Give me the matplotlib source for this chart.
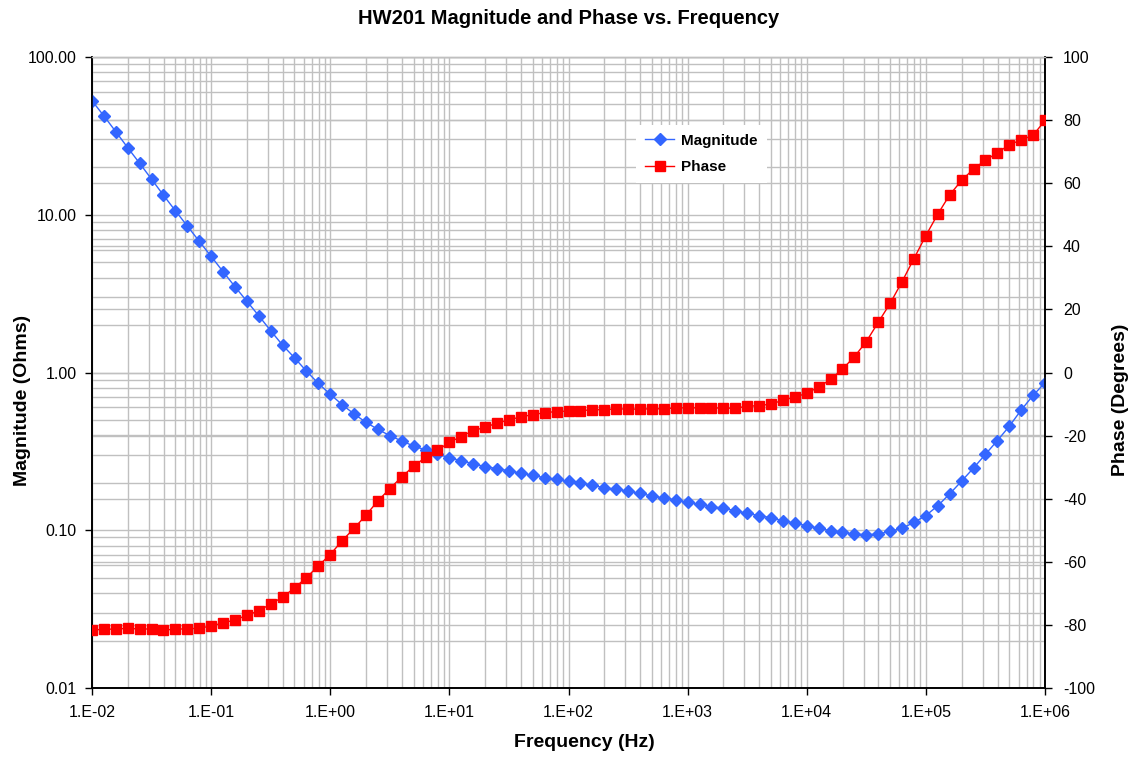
import numpy as np
import matplotlib
matplotlib.use("Agg")
import matplotlib.pyplot as plt
from matplotlib.ticker import FixedLocator, FuncFormatter, NullFormatter
from matplotlib.transforms import blended_transform_factory

plt.rcParams['font.family'] = ['Liberation Sans', 'DejaVu Sans']
plt.rcParams['axes.unicode_minus'] = False

# 10 points per decade, 1e-2 .. 1e6
freq_exponents = [-2 + i / 10 for i in range(81)]
freq = [10 ** e for e in freq_exponents]

magnitude = [
    52.8, 42.3, 33.6, 26.6, 21.2, 16.8, 13.3, 10.6, 8.49, 6.79,
    5.45, 4.36, 3.50, 2.83, 2.29, 1.84, 1.49, 1.24, 1.02, 0.853,
    0.728, 0.625, 0.546, 0.483, 0.436, 0.398, 0.368, 0.342, 0.323, 0.304,
    0.288, 0.276, 0.264, 0.253, 0.246, 0.238, 0.230, 0.223, 0.215, 0.210,
    0.204, 0.199, 0.193, 0.186, 0.182, 0.177, 0.171, 0.165, 0.160, 0.156,
    0.150, 0.146, 0.141, 0.138, 0.133, 0.128, 0.124, 0.120, 0.115, 0.111,
    0.107, 0.103, 0.0993, 0.0968, 0.0946, 0.0937, 0.0946, 0.0984, 0.103, 0.112,
    0.124, 0.143, 0.170, 0.205, 0.248, 0.303, 0.370, 0.456, 0.578, 0.716,
    0.861,
]

phase = [
    -81.6, -81.4, -81.3, -81.1, -81.3, -81.3, -81.6, -81.4, -81.2, -81.1,
    -80.3, -79.4, -78.4, -77.0, -75.5, -73.4, -71.2, -68.3, -65.0, -61.3,
    -57.7, -53.3, -49.4, -45.2, -40.7, -36.8, -33.1, -29.7, -26.9, -24.7,
    -22.1, -20.3, -18.4, -17.4, -16.0, -15.1, -14.0, -13.4, -12.7, -12.4,
    -12.2, -12.1, -11.8, -11.8, -11.5, -11.6, -11.6, -11.5, -11.5, -11.2,
    -11.2, -11.2, -11.2, -11.3, -11.3, -10.7, -10.5, -10.0, -8.8, -7.8,
    -6.6, -4.6, -2.2, 1.1, 5.0, 9.8, 15.9, 21.9, 28.8, 36.1,
    43.4, 50.2, 56.3, 60.9, 64.5, 67.3, 69.6, 72.2, 73.7, 75.2,
    79.9,
]

freq_ticks = [1e-2, 1e-1, 1e0, 1e1, 1e2, 1e3, 1e4, 1e5, 1e6]
mag_ticks = [0.01, 0.1, 1, 10, 100]
phase_ticks = list(range(-100, 101, 20))
grid_color = "#c0c0c0"

# minor grid positions 2..9 inside each decade
freq_minor = [m * t for t in freq_ticks[:-1] for m in range(2, 10)]
mag_minor = [m * t for t in mag_ticks[:-1] for m in range(2, 10)]

fig = plt.figure(figsize=(11.39, 7.57), dpi=100)
ax = fig.add_axes([92 / 1139, 1 - 688 / 757, (1045 - 92) / 1139, (688 - 57) / 757])
ax2 = ax.twinx()

ax.set_xscale("log")
ax.set_yscale("log")
ax.set_xlim(1e-2, 1e6)
ax.set_ylim(0.01, 100)
ax2.set_ylim(-100, 100)

ax.xaxis.set_major_locator(FixedLocator(freq_ticks))
ax.xaxis.set_minor_locator(FixedLocator(freq_minor))
ax.xaxis.set_minor_formatter(NullFormatter())
ax.yaxis.set_major_locator(FixedLocator(mag_ticks))
ax.yaxis.set_minor_locator(FixedLocator(mag_minor))
ax.yaxis.set_minor_formatter(NullFormatter())
ax.grid(True, which="both", color=grid_color, linewidth=1.0)
ax.set_axisbelow(True)

# phase gridlines drawn on the bottom axes so they stay behind both series
trans = blended_transform_factory(ax.transAxes, ax2.transData)
for t in phase_ticks:
    ax.plot([0, 1], [t, t], transform=trans, color=grid_color, linewidth=1.0, zorder=0.6)

ax.plot(freq, magnitude, color="#3366ff", marker="D", markersize=6, linewidth=1.0,
        label="Magnitude", zorder=3)
ax2.plot(freq, phase, color="#ff0000", marker="s", markersize=7.5, linewidth=1.0,
         label="Phase", zorder=3)

ax.xaxis.set_major_formatter(FuncFormatter(lambda v, p: "1.E%+03d" % round(np.log10(v))))
ax.yaxis.set_major_formatter(FuncFormatter(lambda v, p: "%.2f" % v))
ax2.yaxis.set_major_locator(FixedLocator(phase_ticks))

for a in (ax, ax2):
    a.tick_params(axis="both", which="major", direction="out", length=5, width=1,
                  labelsize=11.5, colors="black")
    a.tick_params(axis="both", which="minor", length=0)
    for s in a.spines.values():
        s.set_linewidth(1.2)
    a.spines["top"].set_color(grid_color)
    a.spines["top"].set_linewidth(1.0)
ax.tick_params(axis="x", pad=7)
ax.tick_params(axis="y", pad=6)
ax2.tick_params(axis="y", pad=8)

ax.set_xlabel("Frequency (Hz)", fontsize=14, fontweight="bold")
ax.set_ylabel("Magnitude (Ohms)", fontsize=14, fontweight="bold")
ax2.set_ylabel("Phase (Degrees)", fontsize=14, fontweight="bold", rotation=90)
ax.xaxis.set_label_coords(0.517, -0.073)
ax.yaxis.set_label_coords(-0.064, 0.456)
ax2.yaxis.set_label_coords(1.0703, 0.456)
ax.set_title("HW201 Magnitude and Phase vs. Frequency", fontsize=14.5, fontweight="bold", pad=24)

h1, l1 = ax.get_legend_handles_labels()
h2, l2 = ax2.get_legend_handles_labels()
leg = ax2.legend(h1 + h2, l1 + l2, loc="upper left", bbox_to_anchor=(0.563, 0.905),
                 frameon=True, fancybox=False, edgecolor="none", facecolor="white",
                 framealpha=1.0, prop={"weight": "bold", "size": 11},
                 handlelength=1.9, handletextpad=0.45, labelspacing=0.8, borderpad=0.6)

fig.savefig("out.png", dpi=100)
